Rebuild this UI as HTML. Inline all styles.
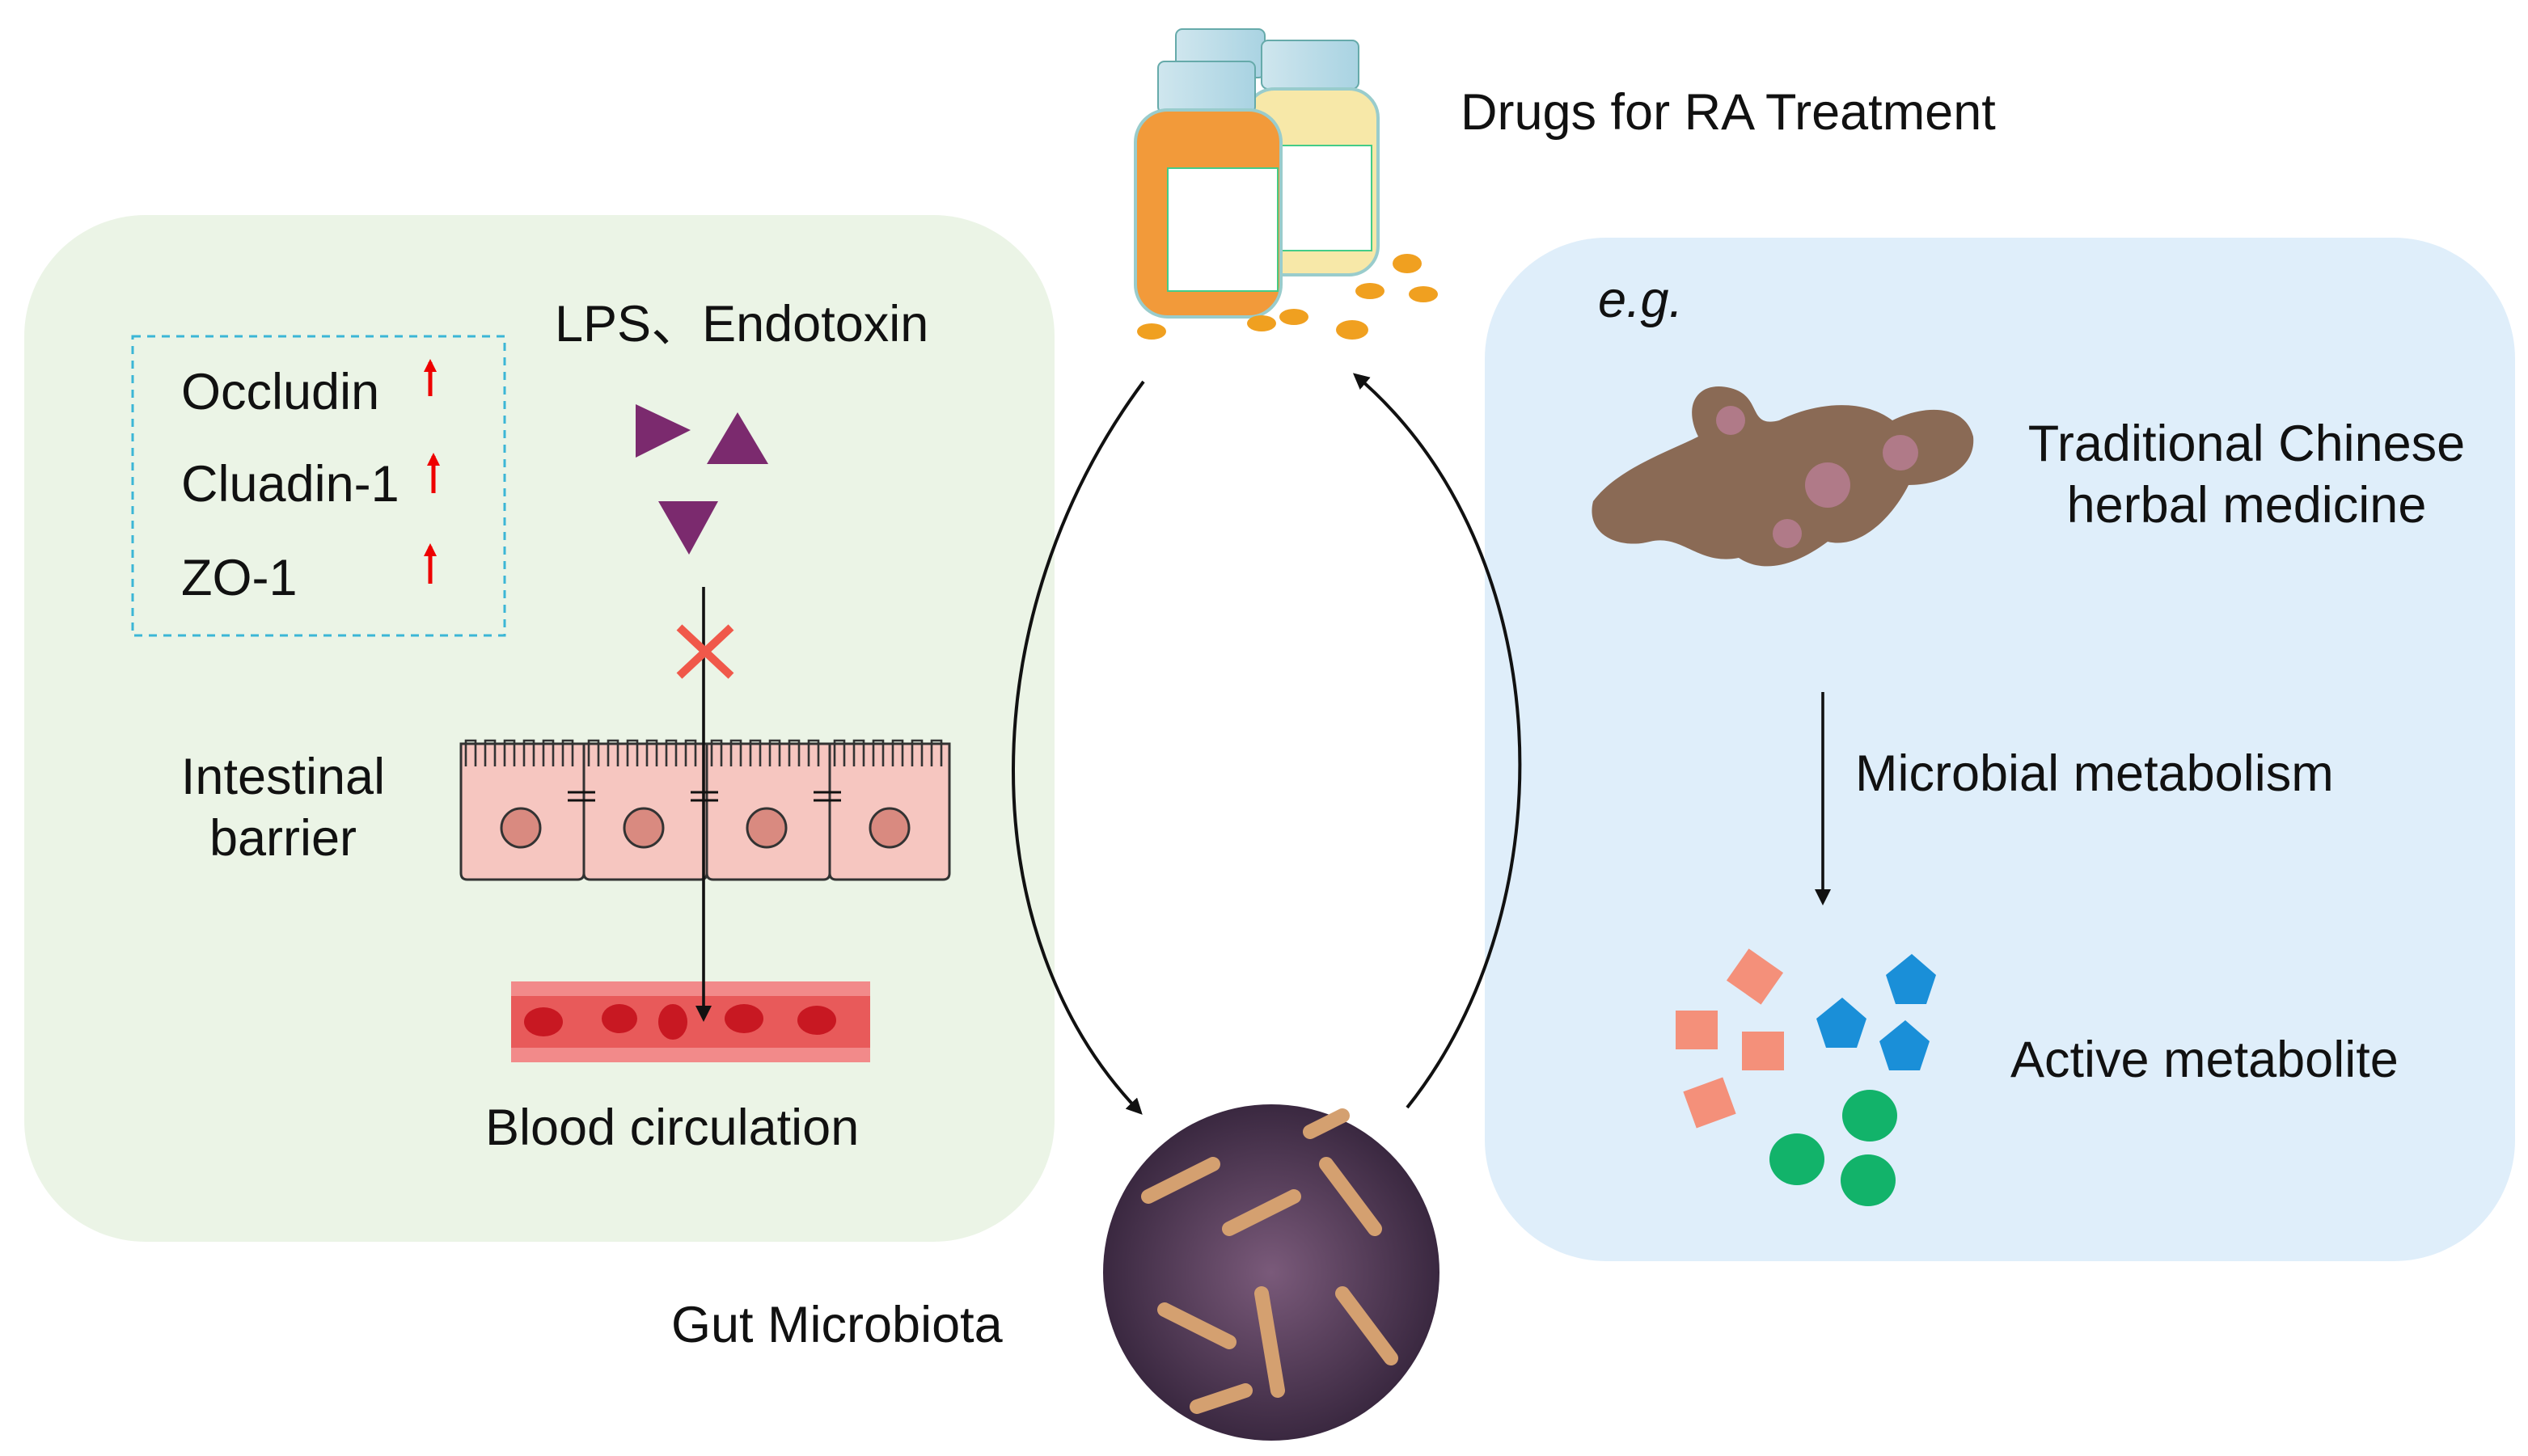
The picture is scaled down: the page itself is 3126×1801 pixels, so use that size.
<!DOCTYPE html>
<html><head><meta charset="utf-8"><style>
html,body{margin:0;padding:0;background:#fff;}
svg{display:block;}
text{font-family:"Liberation Sans","Noto Sans CJK SC",sans-serif;fill:#111;}
</style></head><body>
<svg width="3126" height="1801" viewBox="0 0 1563 900.5" xmlns="http://www.w3.org/2000/svg">
<defs>
<marker id="ah" markerWidth="10" markerHeight="10" refX="8" refY="5" orient="auto" markerUnits="userSpaceOnUse"><path d="M0,0 L10,5 L0,10 z" fill="#111"/></marker>
<marker id="ahr" markerWidth="8" markerHeight="8" refX="6" refY="4" orient="auto" markerUnits="userSpaceOnUse"><path d="M0,0 L8,4 L0,8 z" fill="#e00"/></marker>
<radialGradient id="mg" cx="50%" cy="50%" r="50%"><stop offset="0" stop-color="#7a5a7a"/><stop offset="1" stop-color="#3a2840"/></radialGradient>
<linearGradient id="bt" x1="0" x2="1"><stop offset="0" stop-color="#cfe6ee"/><stop offset="1" stop-color="#a9d3e2"/></linearGradient>
</defs>
<rect x="15" y="133" width="637" height="635" rx="75" fill="#ebf4e6"/>
<rect x="918" y="147" width="637" height="633" rx="75" fill="#dfeefa"/>
<rect x="82" y="208" width="230" height="185" fill="none" stroke="#3bb6d6" stroke-width="1.5" stroke-dasharray="5,4"/>
<g font-size="31.5">
<text x="112" y="253">Occludin</text>
<text x="112" y="310">Cluadin-1</text>
<text x="112" y="368">ZO-1</text>
<text x="343" y="211">LPS、Endotoxin</text>
<text x="175" y="491" text-anchor="middle">Intestinal</text>
<text x="175" y="529" text-anchor="middle">barrier</text>
<text x="300" y="708">Blood circulation</text>
<text x="415" y="830">Gut Microbiota</text>
<text x="903" y="80">Drugs for RA Treatment</text>
<text x="988" y="196" font-style="italic">e.g.</text>
<text x="1389" y="285" text-anchor="middle">Traditional Chinese</text>
<text x="1389" y="323" text-anchor="middle">herbal medicine</text>
<text x="1147" y="489">Microbial metabolism</text>
<text x="1243" y="666">Active metabolite</text>
</g>
<g stroke="#e00" stroke-width="2.5">
<line x1="266" y1="245" x2="266" y2="224" marker-end="url(#ahr)"/>
<line x1="268" y1="305" x2="268" y2="282" marker-end="url(#ahr)"/>
<line x1="266" y1="361" x2="266" y2="338" marker-end="url(#ahr)"/>
</g>
<g fill="#7b2a6e">
<path d="M393,250 L427,266 L393,283z"/>
<path d="M456,255 L475,287 L437,287z"/>
<path d="M407,310 L444,310 L426,343z"/>
</g>
<g fill="#f6c6c0" stroke="#333" stroke-width="1.5">
<path d="M285,460 h76 v80 q0,4 -4,4 h-68 q-4,0 -4,-4z"/>
<path d="M361,460 h76 v80 q0,4 -4,4 h-68 q-4,0 -4,-4z"/>
<path d="M437,460 h76 v80 q0,4 -4,4 h-68 q-4,0 -4,-4z"/>
<path d="M513,460 h74 v80 q0,4 -4,4 h-66 q-4,0 -4,-4z"/>
</g>
<g fill="none" stroke="#333" stroke-width="1.3">
<path d="M288,474 v-16 h6 v16 M300,474 v-16 h6 v16 M312,474 v-16 h6 v16 M324,474 v-16 h6 v16 M336,474 v-16 h6 v16 M348,474 v-16 h6 v16"/>
<path d="M364,474 v-16 h6 v16 M376,474 v-16 h6 v16 M388,474 v-16 h6 v16 M400,474 v-16 h6 v16 M412,474 v-16 h6 v16 M424,474 v-16 h6 v16"/>
<path d="M440,474 v-16 h6 v16 M452,474 v-16 h6 v16 M464,474 v-16 h6 v16 M476,474 v-16 h6 v16 M488,474 v-16 h6 v16 M500,474 v-16 h6 v16"/>
<path d="M516,474 v-16 h6 v16 M528,474 v-16 h6 v16 M540,474 v-16 h6 v16 M552,474 v-16 h6 v16 M564,474 v-16 h6 v16 M576,474 v-16 h6 v16"/>
</g>
<g fill="#d98a80" stroke="#333" stroke-width="1.5">
<circle cx="322" cy="512" r="12"/><circle cx="398" cy="512" r="12"/><circle cx="474" cy="512" r="12"/><circle cx="550" cy="512" r="12"/>
</g>
<g stroke="#111" stroke-width="1.5">
<line x1="351" y1="490" x2="368" y2="490"/><line x1="351" y1="495" x2="368" y2="495"/>
<line x1="427" y1="490" x2="444" y2="490"/><line x1="427" y1="495" x2="444" y2="495"/>
<line x1="503" y1="490" x2="520" y2="490"/><line x1="503" y1="495" x2="520" y2="495"/>
</g>
<rect x="316" y="607" width="222" height="50" fill="#f28a8a"/>
<rect x="316" y="616" width="222" height="32" fill="#e85a5a"/>
<g fill="#c81822">
<ellipse cx="336" cy="632" rx="12" ry="9"/><ellipse cx="383" cy="630" rx="11" ry="9"/><ellipse cx="416" cy="632" rx="9" ry="11"/><ellipse cx="460" cy="630" rx="12" ry="9"/><ellipse cx="505" cy="631" rx="12" ry="9"/>
</g>
<line x1="435" y1="363" x2="435" y2="630" stroke="#111" stroke-width="1.8" marker-end="url(#ah)"/>
<g stroke="#f0584a" stroke-width="5"><line x1="420" y1="388" x2="452" y2="418"/><line x1="452" y1="388" x2="420" y2="418"/></g>
<path d="M707,236 C600,380 600,580 705,688" fill="none" stroke="#111" stroke-width="2" marker-end="url(#ah)"/>
<path d="M870,685 C970,560 965,340 838,232" fill="none" stroke="#111" stroke-width="2" marker-end="url(#ah)"/>
<line x1="1127" y1="428" x2="1127" y2="558" stroke="#111" stroke-width="1.8" marker-end="url(#ah)"/>
<g>
<rect x="727" y="18" width="55" height="30" rx="4" fill="url(#bt)" stroke="#6aa" />
<rect x="780" y="25" width="60" height="30" rx="4" fill="url(#bt)" stroke="#6aa"/>
<rect x="770" y="55" width="82" height="115" rx="18" fill="#f7e8a8" stroke="#9cc" stroke-width="2"/>
<rect x="790" y="90" width="58" height="65" fill="#fff" stroke="#4c8"/>
<rect x="716" y="38" width="60" height="32" rx="4" fill="url(#bt)" stroke="#6aa"/>
<rect x="702" y="68" width="90" height="128" rx="20" fill="#f29a3a" stroke="#9cc" stroke-width="2"/>
<rect x="722" y="104" width="68" height="76" fill="#fff" stroke="#4c8"/>
<g fill="#f0a020"><ellipse cx="712" cy="205" rx="9" ry="5"/><ellipse cx="780" cy="200" rx="9" ry="5"/><ellipse cx="800" cy="196" rx="9" ry="5"/><ellipse cx="836" cy="204" rx="10" ry="6"/><ellipse cx="847" cy="180" rx="9" ry="5"/><ellipse cx="870" cy="163" rx="9" ry="6"/><ellipse cx="880" cy="182" rx="9" ry="5"/></g>
</g>
<circle cx="786" cy="787" r="104" fill="url(#mg)"/>
<g stroke="#d4a070" stroke-width="9" stroke-linecap="round">
<line x1="710" y1="740" x2="750" y2="720"/><line x1="760" y1="760" x2="800" y2="740"/><line x1="820" y1="720" x2="850" y2="760"/><line x1="720" y1="810" x2="760" y2="830"/><line x1="780" y1="800" x2="790" y2="860"/><line x1="830" y1="800" x2="860" y2="840"/><line x1="740" y1="870" x2="770" y2="860"/><line x1="810" y1="700" x2="830" y2="690"/>
</g>
<g fill="#8a6a55">
<path d="M985,310 C1000,290 1030,280 1050,270 C1040,250 1050,235 1070,240 C1090,245 1080,265 1100,260 C1120,250 1150,245 1170,260 C1190,250 1215,250 1220,270 C1222,290 1200,300 1180,300 C1170,320 1150,340 1130,335 C1110,350 1090,355 1075,345 C1050,350 1040,330 1020,335 C1000,340 980,330 985,310z"/>
</g>
<g fill="#b07a88"><circle cx="1130" cy="300" r="14"/><circle cx="1175" cy="280" r="11"/><circle cx="1070" cy="260" r="9"/><circle cx="1105" cy="330" r="9"/></g>
<g fill="#f4907a">
<rect x="1036" y="625" width="26" height="24"/>
<rect x="1077" y="638" width="26" height="24"/>
<rect x="1072" y="592" width="26" height="24" transform="rotate(35 1085 604)"/>
<rect x="1044" y="670" width="26" height="24" transform="rotate(-20 1057 682)"/>
</g>
<g fill="#1a8fd8">
<path d="M1182,590 L1197,603 L1191,621 L1172,621 L1166,603z"/>
<path d="M1139,617 L1154,630 L1148,648 L1129,648 L1123,630z"/>
<path d="M1178,631 L1193,644 L1187,662 L1168,662 L1162,644z"/>
</g>
<g fill="#12b36a">
<ellipse cx="1156" cy="690" rx="17" ry="16"/><ellipse cx="1111" cy="717" rx="17" ry="16"/><ellipse cx="1155" cy="730" rx="17" ry="16"/>
</g>
</svg>
</body></html>
